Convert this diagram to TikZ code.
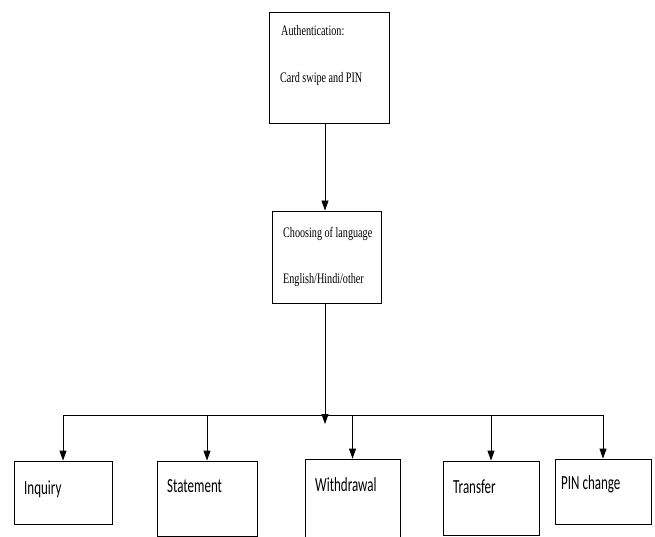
\documentclass[tikz,border=0pt]{standalone}
\usepackage{fontspec}
\newfontfamily\boxserif[FakeStretch=0.7]{Liberation Serif}
\newfontfamily\boxsans[FakeStretch=0.65]{Carlito}
\usetikzlibrary{arrows.meta}
\begin{document}
\begin{tikzpicture}[
    x=1pt, y=-1pt,
    box/.style={rectangle, draw, line width=0.8pt, inner sep=0pt},
    hdtxt/.style={anchor=base west, inner sep=0pt, font=\boxserif\fontsize{14.5}{16}\selectfont},
    optxt/.style={anchor=base west, inner sep=0pt, font=\boxsans\fontsize{20}{22}\selectfont},
    link/.style={-{Triangle[length=10pt,width=7pt]}, line width=0.8pt},
  ]
    \useasboundingbox (0,0) rectangle (655,537);

    % Authentication box
    \node[box, minimum width=120pt, minimum height=111pt] (auth) at (329,67.5) {};
    \node[hdtxt] (authA) at (281,36) {Authentication:};
    \node[hdtxt] (authB) at (280,83) {Card swipe and PIN};

    % Language box
    \node[box, minimum width=109pt, minimum height=92pt] (lang) at (326.5,257) {};
    \node[hdtxt] (langA) at (283,237) {Choosing of language};
    \node[hdtxt] (langB) at (283,283) {English/Hindi/other};

    % Option boxes
    \node[box, minimum width=98pt, minimum height=63pt] (inq) at (63,492.5) {};
    \node[box, minimum width=100pt, minimum height=75pt] (stat) at (207,498.5) {};
    \node[box, minimum width=95pt, minimum height=86pt] (wdr) at (352.5,502) {};
    \node[box, minimum width=96pt, minimum height=74pt] (trf) at (491,498) {};
    \node[box, minimum width=96pt, minimum height=65pt] (pinc) at (603,491.5) {};
    \node[optxt] (inqT) at (24,494) {Inquiry};
    \node[optxt] (statT) at (167,492) {Statement};
    \node[optxt] (wdrT) at (315,491) {Withdrawal};
    \node[optxt] (trfT) at (453,493) {Transfer};
    \node[optxt] (pincT) at (561,489) {PIN change};

    % Bus line
    \coordinate (hub) at (325,415);
    \coordinate (tip) at (325,424);
    \draw[line width=0.8pt] (inq.north |- hub) -- (pinc.north |- hub);

    % Flow
    \draw[link] (auth.south -| hub) -- (lang.north -| hub);
    \draw[link] (lang.south -| hub) -- (tip);
    \foreach \opt in {inq, stat, wdr, trf, pinc}
      \draw[link] (\opt.north |- hub) -- (\opt.north);
  \end{tikzpicture}
\end{document}
